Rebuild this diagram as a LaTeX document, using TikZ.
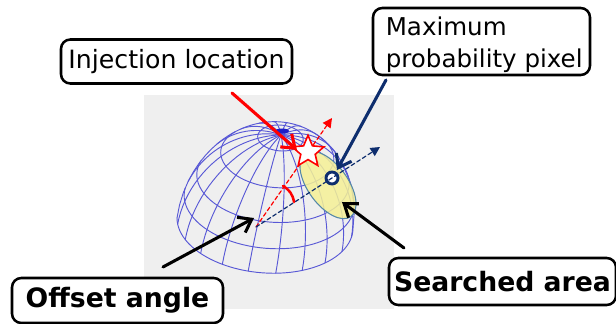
\documentclass[tikz,border=0pt]{standalone}
\usepackage{fontspec}
\setmainfont{DejaVu Sans}
\usetikzlibrary{arrows.meta,shapes.geometric}
\definecolor{panelgrey}{RGB}{239,239,239}
\definecolor{domeblue}{RGB}{88,88,214}
\definecolor{poleblue}{RGB}{30,30,200}
\definecolor{areayellow}{RGB}{245,241,150}
\definecolor{areaedge}{RGB}{84,136,168}
\definecolor{pixelnavy}{RGB}{14,46,110}
\tikzset{
  labelbox/.style={draw=black, fill=white, line width=1.9pt, rounded corners=7pt, inner sep=0pt, align=left},
  plainlabel/.style={labelbox, font=\fontsize{18.9}{22.5}\selectfont},
  boldlabel/.style={labelbox, font=\fontsize{20}{24}\selectfont\bfseries},
  domeline/.style={draw=domeblue, line width=0.7pt, line join=round},
  barbline/.style={line width=2.3pt, -{Straight Barb[length=9pt,width=13pt,line width=2.3pt]}},
  guideline/.style={line width=0.9pt, densely dashed, -{Triangle[length=7pt,width=7pt]}}
}
\begin{document}
\begin{tikzpicture}
% Reference pixels as units, y runs downwards
\def\pxsz{0.75pt}
\begin{scope}[x=\pxsz, y=-\pxsz, line cap=round,
  declare function={
    domex(\l,\p)=265+88*cos(\p)*sin(\l)+16*sin(\p);
    domey(\l,\p)=223-88*sin(\p)+50*cos(\p)*cos(\l)+5*cos(\p)*sin(\l);
  }]
  \useasboundingbox (0,0) rectangle (616,324);
  % Background
  \fill[panelgrey] (144,95) rectangle (394,309);
  % Meridians
  \foreach \l in {7,25,...,349} {
    \pgfmathsetmacro{\pmin}{max(0,atan(-cos(\l)*88/50))}
    \draw[domeline] plot[domain=\pmin:90, samples=24, variable=\p] ({domex(\l,\p)},{domey(\l,\p)});
  }
  % Latitude rings
  \foreach \p in {15,30,50,75} {
    \pgfmathsetmacro{\lmax}{acos(max(-1,-tan(\p)*50/88))}
    \draw[domeline] plot[domain=-\lmax:\lmax, samples=50, variable=\l] ({domex(\l,\p)},{domey(\l,\p)});
  }
  % Rim and outline
  \draw[domeline] plot[domain=-90:90, samples=50, variable=\l] ({domex(\l,0)},{domey(\l,0)});
  \draw[domeline] plot[domain=90:270, samples=50, variable=\l] ({domex(\l,atan(-cos(\l)*88/50))},{domey(\l,atan(-cos(\l)*88/50))});
  \fill[poleblue] (282,131) ellipse (7 and 2.5);
  % Searched area
  \node[ellipse, draw=areaedge, fill=areayellow, fill opacity=0.85, line width=0.8pt, minimum width=58.5pt, minimum height=30pt, inner sep=0pt, rotate=-54] (area) at (328,185) {};
  % Directions from the centre
  \coordinate (centre) at (256,227);
  \coordinate (redtip) at (332,118);
  \coordinate (navytip) at (380,147);
  \draw[guideline, red] (centre) -- (redtip);
  \node[circle, draw=pixelnavy, fill=white, line width=2.2pt, minimum size=9pt, inner sep=0pt] (pixel) at (332,178) {};
  \draw[guideline, pixelnavy] (centre) -- (navytip);
  \node[star, star points=5, star point ratio=2.2, draw=red, fill=white, line width=1.2pt, minimum size=25pt, inner sep=0pt] (inject) at (308,152) {};
  % Angle mark
  \coordinate (arcstart) at (283,186);
  \coordinate (arcend) at (294,202);
  \draw[red, line width=1.9pt] (arcstart) to[bend left=25] (arcend);
  % Labels
  \node[plainlabel, minimum width=173.25pt, minimum height=33pt] (injlabel) at (176.5,61.5) {Injection location};
  \node[plainlabel, font=\fontsize{18.4}{24}\selectfont, minimum width=162.75pt, minimum height=50.25pt] (maxlabel) at (481.5,41.5) {\hspace*{4pt}\rule{0pt}{19pt}Maximum\\\hspace*{4pt}probability pixel};
  \node[boldlabel, minimum width=158.25pt, minimum height=33.75pt] (offlabel) at (117.5,300.5) {Offset angle};
  \node[boldlabel, minimum width=170.25pt, minimum height=35.25pt] (sealabel) at (502.5,281.5) {Searched area};
  % Arrows
  \coordinate (injtail) at (232,93);
  \coordinate (injtip) at (297,150);
  \coordinate (maxtail) at (386,80);
  \coordinate (maxtip) at (337,170);
  \coordinate (offtail) at (163,267);
  \coordinate (offtip) at (254,218);
  \coordinate (seatail) at (404,248);
  \coordinate (seatip) at (342,202);
  \draw[barbline, red] (injtail) -- (injtip);
  \draw[barbline, pixelnavy] (maxtail) -- (maxtip);
  \draw[barbline, black] (offtail) -- (offtip);
  \draw[barbline, black] (seatail) -- (seatip);
\end{scope}
\end{tikzpicture}
\end{document}
